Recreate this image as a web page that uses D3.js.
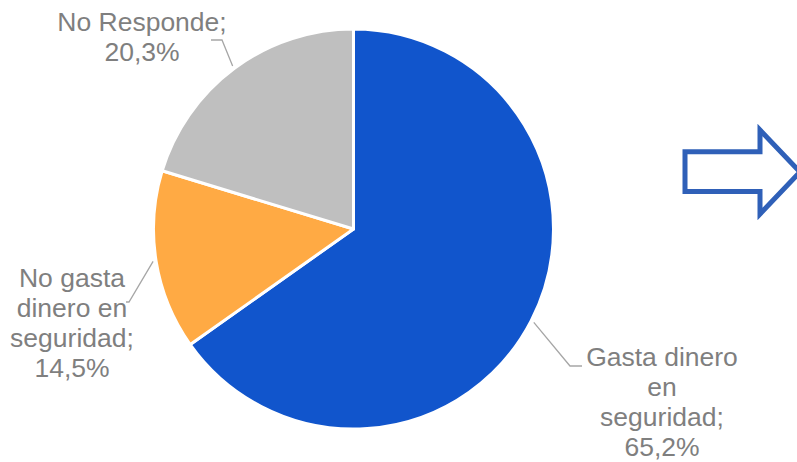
<!DOCTYPE html>
<html>
<head>
<meta charset="utf-8">
<script src="https://cdn.jsdelivr.net/npm/d3@7"></script>
<style>
  body { margin: 0; background: #fff; }
  svg { display: block; }
  .lbl { font-family: "Liberation Sans", Arial, sans-serif; font-size: 26.5px; fill: #7f7f7f; }
</style>
</head>
<body>
<script>
	// data
	var categories = ["Gasta dinero en seguridad", "No gasta dinero en seguridad", "No Responde"];
	var values = [65.2, 14.5, 20.3];
	var labelLines = [
		["Gasta dinero", "en", "seguridad;", "65,2%"],
		["No gasta", "dinero en", "seguridad;", "14,5%"],
		["No Responde;", "20,3%"]
	];
	var colors = ["#1155cc", "#ffaa44", "#bfbfbf"];

	var width = 797, height = 462;
	var cx = 353.5, cy = 229, radius = 200;

	// where each label sits (center x, first baseline) and leader elbow
	var labelPos = [
		{x: 662, y: 366, elbow: [570, 366], end: [582, 366]},
		{x: 72, y: 287, elbow: [129, 302], end: [126, 302]},
		{x: 142, y: 31, elbow: [222, 40], end: [211, 40]}
	];

	var svg = d3.select("body")
		.append("svg")
		.attr("width", width)
		.attr("height", height);

	var g = svg.append("g")
		.attr("transform", "translate(" + cx + "," + cy + ")");

	var pie = d3.pie().sort(null).value(function(d) { return d; });
	var arc = d3.arc().innerRadius(0).outerRadius(radius);

	var arcs = pie(values);

	g.selectAll("path.slice")
		.data(arcs)
		.enter()
		.append("path")
		.attr("class", "slice")
		.attr("d", arc)
		.attr("fill", function(d, i) { return colors[i]; })
		.attr("stroke", "white")
		.attr("stroke-width", 3)
		.attr("stroke-linejoin", "round");

	// leader lines, starting just outside the arc at mid angle
	svg.selectAll("polyline.leader")
		.data(arcs)
		.enter()
		.append("polyline")
		.attr("class", "leader")
		.attr("fill", "none")
		.attr("stroke", "#a6a6a6")
		.attr("stroke-width", 1.3)
		.attr("points", function(d, i) {
			var a = (d.startAngle + d.endAngle) / 2;
			var r = radius + 3;
			var p0 = [cx + r * Math.sin(a), cy - r * Math.cos(a)];
			var lp = labelPos[i];
			return [p0, lp.elbow, lp.end].map(function(p) { return p.join(","); }).join(" ");
		});

	// labels
	var labels = svg.selectAll("text.lbl")
		.data(labelLines)
		.enter()
		.append("text")
		.attr("class", "lbl")
		.attr("text-anchor", "middle");

	labels.selectAll("tspan")
		.data(function(d, i) { return d.map(function(t) { return {t: t, i: i}; }); })
		.enter()
		.append("tspan")
		.attr("x", function(d) { return labelPos[d.i].x; })
		.attr("y", function(d, j) { return labelPos[d.i].y + j * 30; })
		.text(function(d) { return d.t; });

	// outlined arrow on the right
	var arrow = [[685, 151.7], [760, 151.7], [760, 130], [800, 172], [760, 214], [760, 191.5], [685, 191.5]];
	svg.append("polygon")
		.attr("points", arrow.map(function(p) { return p.join(","); }).join(" "))
		.attr("fill", "none")
		.attr("stroke", "#2f60b8")
		.attr("stroke-width", 5)
		.attr("stroke-linejoin", "miter");
</script>
</body>
</html>
